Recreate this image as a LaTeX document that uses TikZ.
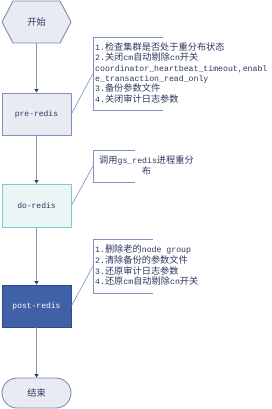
\documentclass[tikz,border=0pt]{standalone}
\usepackage{fontspec}
\setmainfont{Liberation Mono}
\newfontfamily\cjk{Noto Sans CJK SC}
\newfontfamily\mono{Liberation Mono}
\usetikzlibrary{arrows.meta}
\newcommand\zh[1]{{\cjk\fontsize{9.2}{10.5}\selectfont #1}}
\definecolor{txt}{RGB}{45,55,95}
\definecolor{lav}{RGB}{233,235,243}
\definecolor{lavb}{RGB}{125,138,184}
\definecolor{preb}{RGB}{128,144,192}
\definecolor{dof}{RGB}{234,245,245}
\definecolor{dob}{RGB}{128,204,204}
\definecolor{postf}{RGB}{64,96,168}
\definecolor{postb}{RGB}{47,74,138}
\definecolor{arr}{RGB}{140,150,180}
\definecolor{arrh}{RGB}{47,63,112}
\definecolor{brk}{RGB}{128,144,192}
\tikzset{
  box/.style={draw, line width=0.9pt, minimum width=69pt, minimum height=42pt, inner sep=0pt, font=\mono\fontsize{8}{10}\selectfont, text=txt},
  flow/.style={draw=arr, line width=0.9pt, -{Triangle[length=3.5pt,width=4pt,fill=arrh,color=arrh]}},
  brack/.style={draw=brk, line width=0.8pt},
  tie/.style={draw=brk, line width=0.6pt},
  ln/.style={anchor=west, inner sep=0pt, text height=7pt, text depth=2pt, text=txt, font=\mono\fontsize{8.2}{10.5}\selectfont}
}
\begin{document}
\begin{tikzpicture}[x=1pt,y=-1pt]
\useasboundingbox (0,0) rectangle (272,409);
% start hexagon
\draw[fill=lav, draw=lavb, line width=0.9pt] (2,22) -- (13,1) -- (60,1) -- (71,22) -- (60,43) -- (13,43) -- cycle;
\node[inner sep=0pt, minimum width=69pt, minimum height=42pt, text=txt] (start) at (36.5,22) {\zh{开始}};
% boxes
\node[box, fill=lav, draw=preb] (pre) at (36.5,114) {pre-redis};
\node[box, fill=dof, draw=dob, minimum height=43pt] (do) at (36.5,205.5) {do-redis};
\node[box, fill=postf, draw=postb, text=white] (post) at (36.5,306) {post-redis};
\node[draw=lavb, fill=lav, line width=0.9pt, rounded corners=15pt, minimum width=69pt, minimum height=30pt, inner sep=0pt, text=txt] (end) at (36.5,393) {\zh{结束}};
% flow arrows
\draw[flow] (start.south) -- (pre.north);
\draw[flow] (pre.south) -- (do.north);
\draw[flow] (do.south) -- (post.north);
\draw[flow] (post.south) -- (end.north);
% brackets
\coordinate (b1) at (93,73.5);
\coordinate (b2) at (93,166);
\coordinate (b3) at (93,266);
\draw[brack] (163,37) -- (93,37) -- (93,110) -- (163,110);
\draw[brack] (135,150) -- (93,150) -- (93,182) -- (135,182);
\draw[brack] (153,239) -- (93,239) -- (93,293) -- (153,293);
\draw[tie] (pre.east) -- (b1);
\draw[tie] (do.east) -- (b2);
\draw[tie] (post.east) -- (b3);
% bracket 1 text
\node[ln] (t11) at (95,47.7) {1.\zh{检查集群是否处于重分布状态}};
\node[ln] (t12) at (95,58.3) {2.\zh{关闭}cm\zh{自动剔除}cn\zh{开关}};
\node[ln] (t13) at (95,69) {coordinator\_heartbeat\_timeout,enabl};
\node[ln] (t14) at (95,79.3) {e\_transaction\_read\_only};
\node[ln] (t15) at (95,89.5) {3.\zh{备份参数文件}};
\node[ln] (t16) at (95,100) {4.\zh{关闭审计日志参数}};
% bracket 2 text
\node[ln, anchor=center] (t21) at (146.5,161) {\zh{调用}gs\_redis\zh{进程重分}};
\node[ln, anchor=center] (t22) at (146.5,171.5) {\zh{布}};
% bracket 3 text
\node[ln] (t31) at (95,250) {1.\zh{删除老的}node group};
\node[ln] (t32) at (95,261) {2.\zh{清除备份的参数文件}};
\node[ln] (t33) at (95,271.5) {3.\zh{还原审计日志参数}};
\node[ln] (t34) at (95,282) {4.\zh{还原}cm\zh{自动剔除}cn\zh{开关}};
\end{tikzpicture}
\end{document}
